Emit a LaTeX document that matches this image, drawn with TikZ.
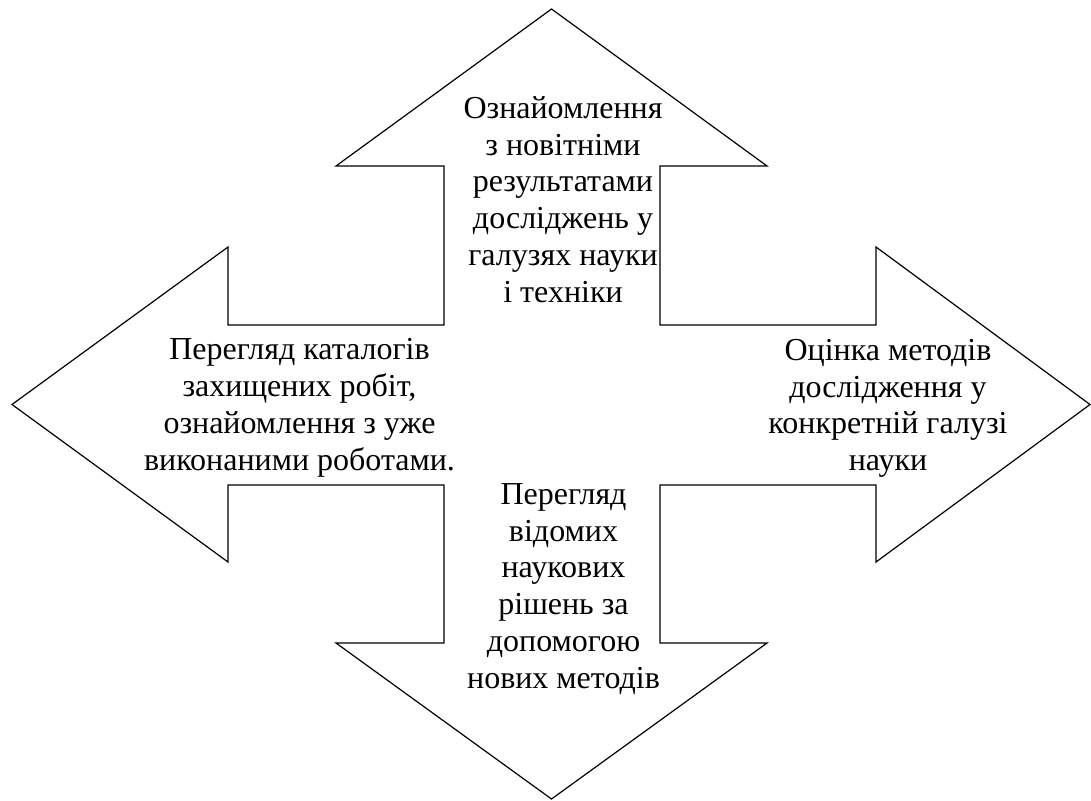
\documentclass[tikz,border=0pt]{standalone}
\usepackage{fontspec}
\setmainfont{Liberation Serif}
\begin{document}
\begin{tikzpicture}[x=1pt,y=-1pt,line width=1.2pt,
	txt/.style={align=center,font=\fontsize{32}{36.7}\selectfont,inner sep=0pt,anchor=base}]
			\useasboundingbox (0,0) rectangle (1091,800);
			% outline of the four arrows
			\draw (551.5,9)--(767,166)--(660,166)--(660,325)--(876,325)--(876,247)--(1090,404.5)
			--(876,562)--(876,485)--(660,485)--(660,643)--(767,643)--(551.5,799)--(336,643)
			--(444,643)--(444,485)--(228,485)--(228,562)--(12,404.5)--(228,247)--(228,325)
			--(444,325)--(444,166)--(336,166)--cycle;
			% base of each text node = baseline of its last line
			\node[txt] (up) at (563,302) {Ознайомлення\\з новітніми\\результатами\\досліджень у\\галузях науки\\і техніки};
			\node[txt] (left) at (299.5,470) {Перегляд каталогів\\захищених робіт,\\ознайомлення з уже\\виконаними роботами.};
			\node[txt] (right) at (888,470.5) {Оцінка методів\\дослідження у\\конкретній галузі\\науки};
			\node[txt] (down) at (563.5,688) {Перегляд\\відомих\\наукових\\рішень за\\допомогою\\нових методів};
			\end{tikzpicture}
\end{document}
